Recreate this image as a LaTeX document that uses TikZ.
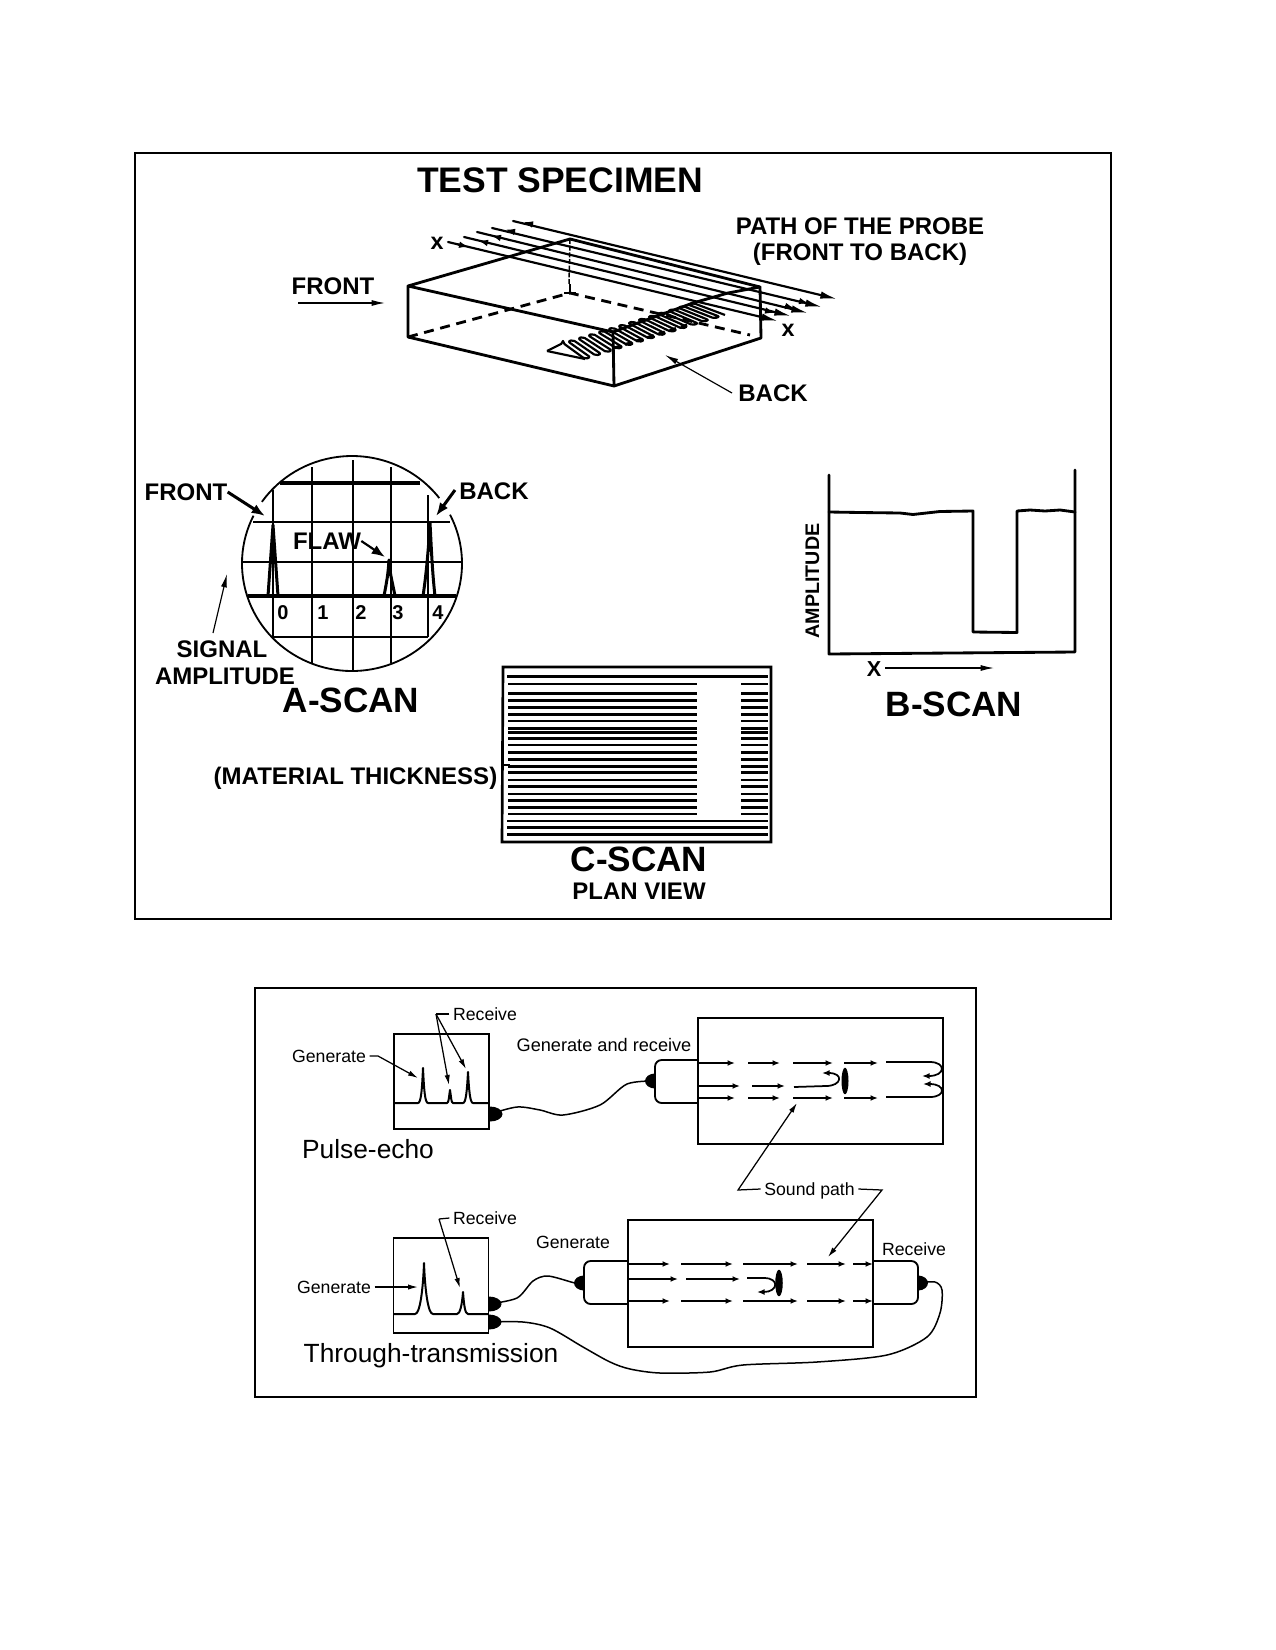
\documentclass[tikz,border=0pt]{standalone}
\usepackage{fontspec}
\setmainfont{Liberation Sans}
\usetikzlibrary{arrows.meta,shapes.geometric}
\tikzset{
  lab/.style={inner sep=0pt,anchor=center,text depth=0pt,text height=#1},
  hone/.style={lab=15.5pt,font=\fontsize{21.3}{24}\selectfont\bfseries},
  scan/.style={lab=14.9pt,font=\fontsize{21.1}{24}\selectfont\bfseries},
  blab/.style={lab=10.3pt,font=\fontsize{14.4}{17}\selectfont\bfseries},
  digit/.style={lab=8.6pt,font=\fontsize{12}{14}\selectfont\bfseries},
  llab/.style={lab=7.5pt,font=\fontsize{10.6}{12}\selectfont},
  mlab/.style={lab=11.2pt,font=\fontsize{15.8}{18}\selectfont},
  frame/.style={draw,line width=1.2pt},
  edge/.style={line width=1.7pt,line cap=round,line join=round},
  dashedge/.style={line width=1.7pt,dash pattern=on 6pt off 4pt},
  probe/.style={line width=1.3pt,line cap=round},
  ptip/.style={line width=1.3pt,-{Latex[length=6pt,width=4pt]}},
  leader/.style={line width=.7pt,-{Latex[length=8pt,width=3.6pt]}},
  fatleader/.style={line width=1.8pt,-{Latex[length=8pt,width=6pt]}},
  grid/.style={line width=.9pt},
  gridb/.style={line width=1.3pt},
  gridt/.style={line width=2.2pt},
  peak/.style={line width=1.8pt,line join=round},
  bscan/.style={line width=1.7pt,line join=round,line cap=round},
  cline/.style={line width=1.6pt},
  mon/.style={draw,fill=white,line width=1.1pt,inner sep=0pt,minimum width=57pt,minimum height=57pt},
  spec/.style={draw,fill=white,line width=1.1pt,inner sep=0pt,minimum width=147pt,minimum height=76pt},
  trace/.style={line width=1.2pt,line join=round},
  knob/.style={ellipse,fill=black,inner sep=0pt,minimum width=15pt,minimum height=9pt},
  cable/.style={line width=.9pt},
  xdcr/.style={draw,fill=white,line width=1.1pt,rounded corners=4pt},
  sound/.style={line width=1.05pt,-{Latex[length=4.5pt,width=3.5pt]}},
  thinlead/.style={line width=.75pt,-{Latex[length=6pt,width=3.2pt]}},
  brk/.style={line width=.75pt},
}
\begin{document}
\begin{tikzpicture}[x=0.6pt,y=-0.6pt]
\useasboundingbox (0,0) rectangle (1275,1650);
% ---- frames
\draw[frame] (135,153) rectangle (1111,919);
\draw[frame] (255,988) rectangle (976,1397);
% ---- test specimen
\node[hone] (title) at (560,180) {TEST SPECIMEN};
\node[blab] (path1) at (860,226) {PATH OF THE PROBE};
\node[blab] (path2) at (860,252) {(FRONT TO BACK)};
\node[blab] (lfront) at (333,286) {FRONT};
\node[blab] (lback) at (773,393) {BACK};
\node[lab=11pt,font=\fontsize{14}{15}\selectfont\bfseries] (xa) at (437,240) {x};
\node[lab=11pt,font=\fontsize{14}{15}\selectfont\bfseries] (xb) at (788,327) {x};
\coordinate (ffrom) at (298,303); \coordinate (fto) at (385,303);
\draw[leader] (ffrom) -- (fto);
\coordinate (bfrom) at (732,393); \coordinate (bto) at (665,355);
\draw[leader] (bfrom) -- (bto);
\coordinate (A) at (408,286); \coordinate (B) at (408,337);
\coordinate (C) at (614,386); \coordinate (D) at (613,332);
\coordinate (E) at (760,287); \coordinate (F) at (761,338);
\coordinate (G) at (570,239); \coordinate (H) at (570,293);
\draw[edge] (A) -- (G) -- (E) -- (F) -- (C) -- (B) -- (A) -- (D) -- (C);
\draw[edge] (D) -- (693,303) -- (728,293) -- (E);
\draw[dashedge] (B) -- (H) -- (750,335);
\draw[line width=.9pt,dash pattern=on 3pt off 1pt] (G) -- (569,284);
\draw[line width=1.7pt] (570,284) -- (570,293) (564,293) -- (576,293);
% flaw
\draw[line width=1.3pt,line join=round,rounded corners=1.2pt] (547,351) -- (563,343)
  \foreach \i in {0,...,12}{
    -- ({563+130*\i/13},{343-40*\i/13}) -- ({585+140*\i/13},{359-44*\i/13})
    -- ({585+140*(\i+.5)/13},{359-44*(\i+.5)/13}) -- ({563+130*(\i+.5)/13},{343-40*(\i+.5)/13})
  } -- (693,303) -- (725,315);
\draw[line width=1.3pt] (547,351) -- (585,359);
\draw[line width=1.7pt,dash pattern=on 4pt off 3pt] (D) ++(1,16) -- (690,324);
% probe paths
\draw[probe,-{Latex[length=10pt,width=4.5pt]}] (513,221) -- (837,299);
\draw[probe,-{Latex[length=10pt,width=4.5pt]}] (492,228) -- (822,307);
\draw[probe,-{Latex[length=10pt,width=4.5pt]}] (477,232) -- (808,313);
\draw[probe,-{Latex[length=10pt,width=4.5pt]}] (464,237) -- (791,316);
\draw[probe,-{Latex[length=10pt,width=4.5pt]}] (448,242) -- (778,321);
\draw[ptip] (533,224.5) -- (523,222);
\draw[ptip] (515,232) -- (505,229.5);
\draw[ptip] (501,238) -- (491,235.5);
\draw[ptip] (488,243) -- (478,240.5);
\draw[ptip] (458,244.5) -- (469,247);
\draw[ptip] (765,310.5) -- (775,313);
\draw[ptip] (785,306) -- (795,308.5);
\draw[ptip] (799,301) -- (809,303.5);
% ---- A-scan
\coordinate (cc) at (352,563.5);
\draw[line width=1.1pt] (cc) ++(37.5:66pt and 64.5pt) arc[start angle=37.5,end angle=145,x radius=66pt,y radius=64.5pt];
\draw[line width=1.1pt] (cc) ++(153.6:66pt and 64.5pt) arc[start angle=153.6,end angle=387,x radius=66pt,y radius=64.5pt];
\draw[gridt] (280,483) -- (420,483);
\draw[gridb] (253,522) -- (450,522);
\draw[gridb] (242,562) -- (461,562);
\draw[gridt] (248,596) -- (456,596);
\draw[gridb] (273,637) -- (428,637);
\draw[grid] (273,490) -- (273,637);
\draw[grid] (312,467) -- (312,663);
\draw[grid] (353,460) -- (353,670);
\draw[grid] (391,467) -- (391,663);
\draw[grid] (428,495) -- (428,637);
\draw[peak] (268,596) -- (273,525) -- (278,596);
\draw[peak] (384,596) .. controls (387,580) and (388,575) .. (389,560) .. controls (390,575) and (392,580) .. (395,596);
\draw[peak] (423,596) .. controls (427,570) and (429,540) .. (430,523) .. controls (431,540) and (432,570) .. (435,596);
\node[digit] (d0) at (283,612) {0};
\node[digit] (d1) at (323,612) {1};
\node[digit] (d2) at (361,612) {2};
\node[digit] (d3) at (398,612) {3};
\node[digit] (d4) at (438,612) {4};
\node[blab] (afront) at (186,492) {FRONT};
\node[blab] (aback) at (494,491) {BACK};
\node[blab] (aflaw) at (327,541) {FLAW};
\node[blab] (sig1) at (222,649) {SIGNAL};
\node[blab] (sig2) at (225,676) {AMPLITUDE};
\node[scan] (ascan) at (351,700) {A-SCAN};
\coordinate (afto) at (265,516); \coordinate (abto) at (436,516);
\coordinate (flto) at (385,557); \coordinate (sgfrom) at (213,633); \coordinate (sgto) at (227,574);
\draw[fatleader] (afront.east) -- (afto);
\draw[fatleader] (455,490) -- (abto);
\draw[fatleader,line width=1.3pt] (aflaw.east) -- (flto);
\draw[leader] (sgfrom) -- (sgto);
% ---- B-scan
\draw[bscan] (829,475) -- (829,654) -- (1075,652) -- (1075,470);
\draw[bscan] (829,512) -- (860,512.5) -- (900,513) -- (913,514.5) -- (940,511.5) -- (973,511) -- (973,632)
  -- (1017,632.5) -- (1017,511) -- (1030,510) -- (1045,511) -- (1060,510) -- (1075,512);
\node[lab=8.5pt,font=\fontsize{11.8}{14}\selectfont\bfseries,rotate=90] (bamp) at (812,581) {AMPLITUDE};
\node[lab=9.3pt,font=\fontsize{13}{15}\selectfont\bfseries] (bx) at (874,669) {X};
\coordinate (bxto) at (994,668);
\draw[leader] (885,668) -- (bxto);
\node[scan] (bscanl) at (954,704) {B-SCAN};
% ---- C-scan
\draw[line width=1.6pt] (503,667) -- (771,667) -- (771,842) -- (502,842) -- cycle;
\foreach \v in {102,130,152,173,193,213,235,248,265,285,308,328,350,367,390,410,432,452,472,492}{
  \draw[cline] (508,{650+\v/3}) -- (697,{650+\v/3});
  \draw[cline] (741,{650+\v/3}) -- (768,{650+\v/3});
}
\foreach \v in {80,513,532,553}{
  \draw[cline] (507,{650+\v/3}) -- (768,{650+\v/3});
}
\draw[line width=.9pt] (503,765) -- (510,765);
\node[blab] (cmat) at (355.5,776) {(MATERIAL THICKNESS)};
\node[scan] (cscan) at (639,859) {C-SCAN};
\node[blab] (cplan) at (639,891) {PLAN VIEW};
% ---- Pulse-echo
\node[knob] (k1) at (490,1114) {};
\node[knob,minimum width=12pt] (k2) at (655,1081) {};
\draw[cable] plot[smooth] coordinates {(k1) (517,1107) (540,1110) (563,1115) (600,1105) (627,1084) (k2)};
\node[mon] (m1) at (441.5,1081.5) {};
\draw[trace] (394,1103) -- (418,1103) .. controls (421,1103) and (422,1090) .. (423,1068) .. controls (424,1090) and (425,1103) .. (428,1103)
 -- (447,1103) .. controls (449,1103) and (449,1095) .. (450,1090) .. controls (451,1095) and (451,1103) .. (453,1103)
 -- (463,1103) .. controls (466,1103) and (467,1090) .. (468,1072) .. controls (469,1090) and (470,1103) .. (473,1103) -- (489,1103);
\draw[xdcr] (698,1060) -- (655,1060) -- (655,1103) -- (698,1103);
\node[spec] (s1) at (820.5,1081) {};
% ---- Through transmission boxes (drawn before the leaders that cross them)
\node[knob] (k3) at (489,1304) {};
\node[knob] (k4) at (489,1322) {};
\node[knob,minimum width=12pt] (k5) at (584,1283) {};
\node[knob,minimum width=12pt] (k6) at (918,1283) {};
\draw[cable] plot[smooth] coordinates {(k3) (517,1298) (533,1281) (548,1276) (575,1283) (k5)};
\draw[cable] plot[smooth] coordinates {(k4) (523,1322) (550,1328) (583,1347) (610,1362) (630,1369) (660,1373) (710,1372) (743,1365) (817,1362) (887,1355) (927,1337) (940,1313) (942,1290) (935,1282) (k6)};
\node[mon] (m2) at (441,1285.5) {};
\draw[trace] (394,1314) -- (415,1314) .. controls (420,1314) and (423,1290) .. (424,1263) .. controls (425,1290) and (428,1314) .. (433,1314)
 -- (457,1314) .. controls (460,1314) and (462,1305) .. (463,1292) .. controls (464,1305) and (465,1314) .. (468,1314) -- (488,1314);
\draw[xdcr] (628,1261) -- (584,1261) -- (584,1304) -- (628,1304);
\draw[xdcr] (873,1261) -- (918,1261) -- (918,1304) -- (873,1304);
\node[spec] (s2) at (750.5,1283.5) {};
% ---- lower labels and leaders
\node[llab] (g1) at (329,1056) {Generate};
\node[llab] (r1) at (485,1014) {Receive};
\node[lab=7.7pt,font=\fontsize{10.9}{12}\selectfont] (gr) at (604,1045) {Generate and receive};
\node[mlab] (pe) at (368,1149) {Pulse-echo};
\coordinate (r1a) at (436,1014); \coordinate (r1b) at (449,1085); \coordinate (r1c) at (466,1069);
\coordinate (g1t) at (418,1078);
\draw[brk] (r1.west) ++(-2pt,0) -- (r1a);
\draw[thinlead] (r1a) -- (r1b);
\draw[thinlead] (r1a) -- (r1c);
\draw[thinlead] (g1.east) ++(2pt,0) -- (378,1056) -- (g1t);
\foreach \y/\xs in {1063/{698/735,748/780,793/833,844/878},1098/{698/735,748/780,793/833,844/878},1086/{698/740,752/785}}{
  \foreach \a/\b in \xs { \draw[sound] (\a,\y) -- (\b,\y); }
}
\draw[sound] (886,1062) -- (930,1062) .. controls (946,1062) and (946,1076) .. (922,1076);
\draw[sound] (886,1097) -- (930,1097) .. controls (946,1097) and (946,1084) .. (923,1084);
\draw[sound] (794,1087) -- (826,1086) .. controls (842,1086) and (844,1073) .. (822,1073);
\node[ellipse,fill=black,inner sep=0pt,minimum width=4.2pt,minimum height=16pt] (f1) at (845,1081) {};
% sound path
\node[llab] (sp) at (809.5,1189) {Sound path};
\coordinate (sa) at (738,1190); \coordinate (sb) at (797,1103);
\coordinate (sc) at (882,1190); \coordinate (sd) at (828,1257);
\draw[thinlead] (sp.west) ++(-2pt,0) -- (sa) -- (sb);
\draw[thinlead] (sp.east) ++(2pt,0) -- (sc) -- (sd);
\node[llab] (g2) at (334,1287) {Generate};
\node[llab] (r2) at (485,1218) {Receive};
\node[llab] (g3) at (573,1242) {Generate};
\node[llab] (r3) at (914,1249) {Receive};
\node[mlab] (tt) at (431,1353) {Through-transmission};
\coordinate (g2t) at (418,1287); \coordinate (r2a) at (439,1219); \coordinate (r2b) at (460,1288);
\draw[thinlead] (g2.east) ++(2pt,0) -- (g2t);
\draw[brk] (r2.west) ++(-2pt,0) -- (r2a);
\draw[thinlead] (r2a) -- (r2b);
\foreach \y/\xs in {1264/{628/670,681/733,743/798,807/846,853/873},1301/{628/670,681/733,743/798,807/846,853/873},1279/{628/678,686/740}}{
  \foreach \a/\b in \xs { \draw[sound] (\a,\y) -- (\b,\y); }
}
\draw[sound] (747,1278) -- (764,1278) .. controls (780,1278) and (778,1292) .. (757,1292);
\node[ellipse,fill=black,inner sep=0pt,minimum width=4.5pt,minimum height=16pt] (f2) at (779,1283) {};
\end{tikzpicture}
\end{document}
